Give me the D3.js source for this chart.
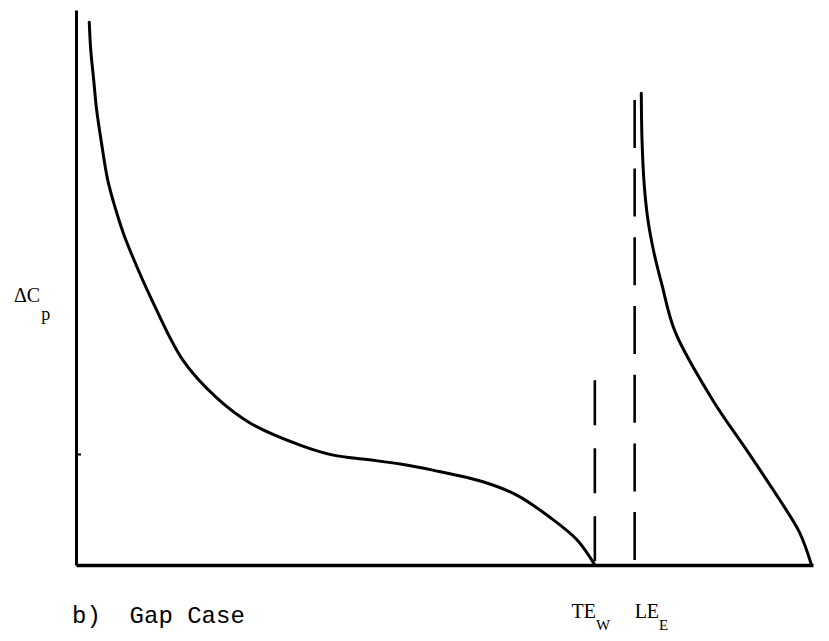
<!DOCTYPE html>
<html>
<head>
<meta charset="utf-8">
<script src="https://cdn.jsdelivr.net/npm/d3@7"></script>
<style>
    html, body { margin: 0; padding: 0; background: #fff; }
    svg { display: block; }
</style>
</head>
<body>
<script>
// Data (x = fraction of chord, y = ΔCp, arbitrary units) //
const wingX = [0.018, 0.020, 0.024, 0.028, 0.035, 0.043, 0.054, 0.065, 0.077, 0.100, 0.145, 0.191, 0.236, 0.304, 0.349, 0.395, 0.440, 0.484, 0.552, 0.598, 0.643, 0.680, 0.704]
const wingY = [0.978, 0.928, 0.874, 0.820, 0.757, 0.694, 0.640, 0.595, 0.555, 0.486, 0.369, 0.301, 0.256, 0.216, 0.198, 0.190, 0.182, 0.171, 0.150, 0.126, 0.086, 0.045, 0.000]

const flapX = [0.767, 0.768, 0.771, 0.776, 0.784, 0.795, 0.813, 0.864, 0.910, 0.955, 0.982, 0.998]
const flapY = [0.850, 0.766, 0.685, 0.622, 0.564, 0.505, 0.420, 0.297, 0.207, 0.117, 0.058, 0.000]

// dashed markers: trailing edge of wing, leading edge of flap
const markerNames = ["TE", "LE"]
const markerSubs = ["W", "E"]
const markerX = [0.704, 0.758]
const markerTop = [0.333, 0.838]

const yTicks = [0.2]

const W = 829, H = 641
const margin = {left: 76, right: 16, top: 10, bottom: 76}

const svg = d3.select("body").append("svg")
    .attr("width", W)
    .attr("height", H)

const x = d3.scaleLinear()
    .domain([0, 1])
    .range([margin.left, W - margin.right])
const y = d3.scaleLinear()
    .domain([0, 1])
    .range([H - margin.bottom, margin.top])

const ink = "#000"

// Axes //
const yAxis = svg.append("g")
    .attr("transform", `translate(${x(0)},0)`)
    .call(d3.axisRight(y).tickValues(yTicks).tickSize(5).tickSizeOuter(0).tickFormat(""))
yAxis.select(".domain").attr("stroke", ink).attr("stroke-width", 3)
yAxis.selectAll(".tick line").attr("stroke", ink).attr("stroke-width", 2)

const xAxis = svg.append("g")
    .attr("transform", `translate(0,${y(0)})`)
    .call(d3.axisBottom(x).tickValues([]).tickSizeOuter(0))
xAxis.select(".domain").attr("stroke", ink).attr("stroke-width", 3.5)

// Curves //
const line = d3.line()
    .x(d => x(d[0]))
    .y(d => y(d[1]))
    .curve(d3.curveCatmullRom.alpha(0.5))

svg.append("path")
    .datum(d3.zip(wingX, wingY))
    .attr("d", line)
    .attr("fill", "none")
    .attr("stroke", ink)
    .attr("stroke-width", 3)
    .attr("stroke-linecap", "round")

svg.append("path")
    .datum(d3.zip(flapX, flapY))
    .attr("d", line)
    .attr("fill", "none")
    .attr("stroke", ink)
    .attr("stroke-width", 3)
    .attr("stroke-linecap", "round")

// Dashed markers //
const dashes = ["45,23", "48,20.7"]
markerX.forEach((mx, i) => {
    svg.append("line")
        .attr("x1", x(mx)).attr("x2", x(mx))
        .attr("y1", y(markerTop[i])).attr("y2", y(0))
        .attr("stroke", ink)
        .attr("stroke-width", 2.6)
        .attr("stroke-dasharray", dashes[i])
})

// Labels //
const serif = "'Liberation Serif', 'DejaVu Serif', serif"
const mono = "'Liberation Mono', 'DejaVu Sans Mono', monospace"

const yLab = svg.append("text")
    .attr("x", 14)
    .attr("y", 302)
    .attr("font-family", serif)
    .attr("font-size", 20)
    .attr("fill", ink)
yLab.append("tspan").text("\u0394C")
yLab.append("tspan").attr("dx", 1).attr("dy", 18).attr("font-size", 18).text("p")

const anchors = ["middle", "start"]
const offs = [-4, 0]
markerX.forEach((mx, i) => {
    const t = svg.append("text")
        .attr("x", x(mx) + offs[i])
        .attr("y", 618)
        .attr("text-anchor", anchors[i])
        .attr("font-family", serif)
        .attr("font-size", 20)
        .attr("fill", ink)
    t.append("tspan").text(markerNames[i])
    t.append("tspan").attr("dy", 12).attr("font-size", 15).text(markerSubs[i])
})

svg.append("text")
    .attr("x", 72)
    .attr("y", 623)
    .attr("font-family", mono)
    .attr("font-size", 24)
    .attr("fill", ink)
    .attr("xml:space", "preserve")
    .style("white-space", "pre")
    .text("b)  Gap Case")
</script>
</body>
</html>
